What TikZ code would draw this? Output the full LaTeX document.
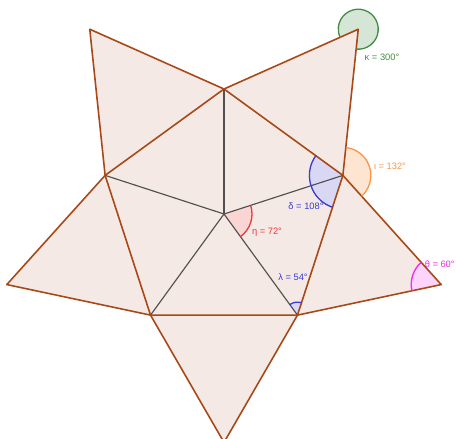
\documentclass[tikz,border=0pt]{standalone}
\usepackage{fontspec}
\setmainfont{Liberation Sans}
\definecolor{edgebrown}{RGB}{168,72,22}
\definecolor{starfill}{RGB}{244,233,228}
\definecolor{spoke}{RGB}{80,80,80}
\definecolor{etared}{RGB}{235,60,60}
\definecolor{delblue}{RGB}{60,60,205}
\definecolor{iotaor}{RGB}{250,150,70}
\definecolor{kapgreen}{RGB}{70,140,70}
\definecolor{thmag}{RGB}{245,40,235}
\definecolor{lamblue}{RGB}{60,60,220}
\begin{document}
\begin{tikzpicture}[x=0.02cm,y=0.02cm,
  edge/.style={draw=edgebrown,line width=0.9pt,line join=round},
  spokeline/.style={draw=spoke,line width=0.65pt},
  arcline/.style={line width=0.75pt},
  lbl/.style={font=\fontsize{5.3pt}{6pt}\selectfont,inner sep=0pt}]
\useasboundingbox (0,0) rectangle (456,-439);
\coordinate (O) at (224,-214);
\path (O) ++(90:125) coordinate (V0);
\path (O) ++(18:125) coordinate (V1);
\path (O) ++(-54:125) coordinate (V2);
\path (O) ++(-126:125) coordinate (V3);
\path (O) ++(162:125) coordinate (V4);
\path (O) ++(54:228.4) coordinate (A0);
\path (O) ++(-18:228.4) coordinate (A1);
\path (O) ++(-90:228.4) coordinate (A2);
\path (O) ++(-162:228.4) coordinate (A3);
\path (O) ++(126:228.4) coordinate (A4);
% star fill
\fill[starfill] (V0)--(A0)--(V1)--(A1)--(V2)--(A2)--(V3)--(A3)--(V4)--(A4)--cycle;
% angle sector fills
\fill[kapgreen!22] (A0) -- ++(264:20) arc[start angle=264,end angle=564,radius=20] -- cycle;
\fill[iotaor!25] (V1) -- ++(-48:28) arc[start angle=-48,end angle=84,radius=28] -- cycle;
\fill[delblue!20] (V1) -- ++(144:33.5) arc[start angle=144,end angle=252,radius=33.5] -- cycle;
\fill[etared!22] (O) -- ++(-54:28) arc[start angle=-54,end angle=18,radius=28] -- cycle;
\fill[thmag!20] (A1) -- ++(132:30) arc[start angle=132,end angle=192,radius=30] -- cycle;
\fill[lamblue!20] (V2) -- ++(72:13) arc[start angle=72,end angle=126,radius=13] -- cycle;
% spokes
\foreach \v in {V0,V1,V2,V3,V4} \draw[spokeline] (O) -- (\v);
% edges
\draw[edge] (V0)--(V1)--(V2)--(V3)--(V4)--cycle;
\draw[edge] (V0)--(A0)--(V1);
\draw[edge] (V1)--(A1)--(V2);
\draw[edge] (V2)--(A2)--(V3);
\draw[edge] (V3)--(A3)--(V4);
\draw[edge] (V4)--(A4)--(V0);
% arcs
\draw[arcline,kapgreen] (A0) ++(264:20) arc[start angle=264,end angle=564,radius=20];
\draw[arcline,iotaor] (V1) ++(-48:28) arc[start angle=-48,end angle=84,radius=28];
\draw[arcline,delblue] (V1) ++(144:33.5) arc[start angle=144,end angle=252,radius=33.5];
\draw[arcline,etared] (O) ++(-54:28) arc[start angle=-54,end angle=18,radius=28];
\draw[arcline,thmag] (A1) ++(132:30) arc[start angle=132,end angle=192,radius=30];
\draw[arcline,lamblue] (V2) ++(72:13) arc[start angle=72,end angle=126,radius=13];
% labels
\node[lbl,text=kapgreen] (lk) at (382,-57) {κ = 300°};
\node[lbl,text=iotaor] (li) at (390,-166) {ι = 132°};
\node[lbl,text=delblue] (ld) at (306,-206) {δ = 108°};
\node[lbl,text=etared] (le) at (267,-232) {η = 72°};
\node[lbl,text=lamblue] (ll) at (293,-277) {λ = 54°};
\node[lbl,text=thmag,anchor=east] (lt) at (455,-264) {θ = 60°};
\end{tikzpicture}
\end{document}
